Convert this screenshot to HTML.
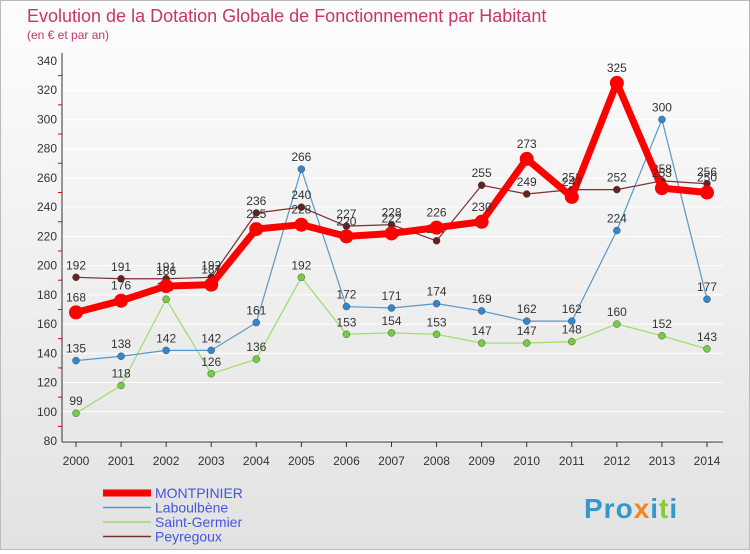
<!DOCTYPE html>
<html><head><meta charset="utf-8"><style>
body{margin:0;width:750px;height:550px;overflow:hidden;font-family:"Liberation Sans",sans-serif}
#wrap{position:relative;width:748px;height:548px;border:1px solid #bbb;background:linear-gradient(#fdfdfd,#e2e2e2)}
</style></head><body>
<div id="wrap">
<svg id="c" width="748" height="548"></svg>
</div>
<script>
const years=["2000","2001","2002","2003","2004","2005","2006","2007","2008","2009","2010","2011","2012","2013","2014"];
const montpinier=[168,176,186,187,225,228,220,222,226,230,273,247,325,253,250];
const laboulbene=[135,138,142,142,161,266,172,171,174,169,162,162,224,300,177];
const saintGermier=[99,118,177,126,136,192,153,154,153,147,147,148,160,152,143];
const peyregoux=[192,191,191,192,236,240,227,228,217,255,249,252,252,258,256];
const yTicks=[80,100,120,140,160,180,200,220,240,260,280,300,320,340];
const NS="http://www.w3.org/2000/svg";
const svg=document.getElementById('c');
function X(i){return 75+i*(706-75)/14;}
function Y(v){return 440-(v-80)*380/260;}
function mk(t,a,p){const e=document.createElementNS(NS,t);for(const k in a)e.setAttribute(k,a[k]);(p||svg).appendChild(e);return e;}
function tx(x,y,s,a,col,size,anchor){const e=mk('text',{x:x,y:y,fill:col||'#333','font-size':size||12,'text-anchor':anchor||'middle'});e.textContent=s;return e;}
let t=tx(26,21,"Evolution de la Dotation Globale de Fonctionnement par Habitant",0,'#c8346b',18,'start');

t=tx(26,38,"(en € et par an)",0,'#c8346b',12,'start');

yTicks.forEach((v,k)=>{
 const l=mk('line',{x1:60,x2:722,y1:Y(v),y2:Y(v),stroke:'#fff','stroke-width':1});
 
 const lb=tx(56,Y(v)+4,String(v),0,'#333',12,'end');
 
 if(k>0) mk('line',{x1:57,x2:61,y1:Y(v)+14.6,y2:Y(v)+14.6,stroke:'#e00'});
});
let ax=mk('line',{x1:61,x2:61,y1:52,y2:441,stroke:'#333'});

ax=mk('line',{x1:61,x2:722,y1:441,y2:441,stroke:'#333'});

years.forEach((y,i)=>{
 mk('line',{x1:X(i),x2:X(i),y1:441,y2:446,stroke:'#333'});
 const lb=tx(X(i),464,y,0,'#333',12);
 
});
function series(name,arr,col,w,r,dot,labelDy){
 const g=mk('g',{});
 mk('polyline',{points:arr.map((v,i)=>X(i)+','+Y(v)).join(' '),fill:'none',stroke:col,'stroke-width':w,'stroke-linejoin':'round'},g);
 arr.forEach((v,i)=>{
  const c=mk('circle',{cx:X(i),cy:Y(v),r:r,fill:dot,stroke:r>5?'none':'#333','stroke-width':0.4},g);
  
  const l=tx(X(i),Y(v)-labelDy,String(v),0,'#333',12);
  
 });
}
series('saint-germier',saintGermier,'#99dd66',1.2,3.5,'#77cc44',8);
series('laboulbene',laboulbene,'#5599cc',1.2,3.5,'#3388cc',8);
series('peyregoux',peyregoux,'#7a3030',1.2,3.5,'#662222',8);
series('montpinier',montpinier,'#ff0000',7,7,'#ff0000',11);
const leg=[['MONTPINIER','#ff0000',7],['Laboulbène','#5599cc',1.5],['Saint-Germier','#99dd66',1.5],['Peyregoux','#7a3030',1.5]];
leg.forEach((d,i)=>{
 const y=492+i*14.5;
 const g=mk('g',{});
 mk('line',{x1:102,x2:150,y1:y,y2:y,stroke:d[1],'stroke-width':d[2]},g);
 const e=mk('text',{x:154,y:y+5,fill:'#4455dd','font-size':14},g);e.textContent=d[0];
});
const logo=mk('text',{x:583,y:517,'font-size':28,'font-weight':'bold',fill:'#ee8822','letter-spacing':'1'});

logo.innerHTML='<tspan fill="#3399cc">Pro</tspan><tspan fill="#ee8822">x</tspan><tspan fill="#3399cc">i</tspan><tspan fill="#88cc33">t</tspan><tspan fill="#3399cc">i</tspan>';
</script>
</body></html>
